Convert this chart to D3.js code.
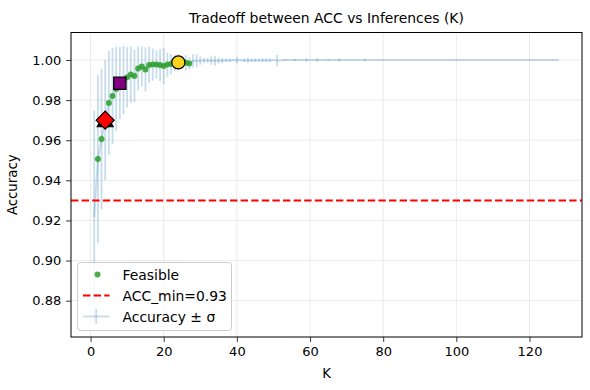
<!DOCTYPE html>
<html>
<head>
<meta charset="utf-8">
<script src="https://cdn.jsdelivr.net/npm/d3@7"></script>
<style>
  body { margin: 0; background: #fff; }
  text { font-family: "DejaVu Sans", sans-serif; }
</style>
</head>
<body>
<div id="canvas"></div>
<script>
// values
const kValues = [1, 2, 3, 4, 5, 6, 7, 8, 9, 10, 11, 12, 13, 14, 15, 16, 17, 18, 19, 20,
  21, 22, 23, 24, 25, 26, 27, 28, 29, 30, 31, 32, 33, 34, 35, 36, 37, 38, 39, 40,
  41, 42, 43, 44, 45, 46, 47, 48, 49, 50, 51, 53, 56, 59, 62, 65, 68, 75, 128];
const accMean = [0.9218, 0.9506, 0.9606, 0.9700, 0.9786, 0.9820, 0.9855, 0.9884, 0.9900, 0.9914,
  0.9927, 0.9920, 0.9958, 0.9968, 0.9953, 0.9975, 0.9977, 0.9977, 0.9975, 0.9970,
  0.9977, 0.9980, 0.9983, 0.9988, 0.9990, 0.9986, 0.9983, 0.9995, 0.9996, 0.9997,
  0.9997, 0.9997, 0.9997, 0.9996, 0.9997, 0.9997, 0.9998, 0.9998, 1.0, 0.9998,
  1.0, 0.9998, 0.9998, 0.9998, 0.9998, 0.9998, 0.9998, 0.9998, 0.9998, 1.0,
  0.9997, 1.0, 1.0, 1.0, 1.0, 1.0, 1.0, 1.0, 1.0];
const accStd = [0.053, 0.042, 0.035, 0.030, 0.026, 0.024, 0.021, 0.018, 0.017, 0.015,
  0.014, 0.013, 0.011, 0.010, 0.011, 0.009, 0.008, 0.007, 0.008, 0.009,
  0.006, 0.005, 0.004, 0.004, 0.003, 0.004, 0.003, 0.0033, 0.0033, 0.0020,
  0.0013, 0.0013, 0.0020, 0.0025, 0.0015, 0.0013, 0.0008, 0.0008, 0, 0.0015,
  0, 0.0008, 0.0012, 0.0008, 0.0008, 0.0008, 0.0010, 0.0010, 0.0008, 0,
  0.0028, 0.0004, 0.0005, 0.0008, 0.0008, 0.0004, 0.0008, 0.0006, 0];
const feasibleK = [2, 3, 4, 5, 6, 7, 8, 9, 10, 11, 12, 13, 14, 15, 16, 17, 18, 19, 20,
  21, 22, 23, 24, 25, 26, 27];
const accMin = 0.93;
const markK = [4, 4, 8, 24];
const markShape = ["triangle", "diamond", "square", "circle"];
const markColor = ["#000000", "#ff0000", "#800080", "#ffd21f"];
const xTicks = [0, 20, 40, 60, 80, 100, 120];
const yTicks = [0.88, 0.90, 0.92, 0.94, 0.96, 0.98, 1.00];
const legendLabels = ["Feasible", "ACC_min=0.93", "Accuracy ± σ"];

const canvas = d3.select("#canvas");

const width = 590;
const height = 390;
const margin = { top: 32.5, left: 71, bottom: 53, right: 8 };
const iwidth = width - margin.left - margin.right;
const iheight = height - margin.top - margin.bottom;
const fs = 13.9;

const svg = canvas.append("svg").attr("width", width).attr("height", height);

const g = svg.append("g").attr("transform", `translate(${margin.left},${margin.top})`);

const x = d3.scaleLinear().domain([-5.35, 134.35]).range([0, iwidth]);
const y = d3.scaleLinear().domain([0.8619, 1.0137]).range([iheight, 0]);

const rows = kValues.map((k, i) => ({ k: k, m: accMean[i], s: accStd[i] }));
const meanOf = (k) => accMean[kValues.indexOf(k)];

// grid
g.append("g").selectAll("line").data(xTicks).join("line")
  .attr("x1", (d) => x(d)).attr("x2", (d) => x(d))
  .attr("y1", 0).attr("y2", iheight)
  .attr("stroke", "#e6e6e6").attr("stroke-width", 0.8);
g.append("g").selectAll("line").data(yTicks).join("line")
  .attr("y1", (d) => y(d)).attr("y2", (d) => y(d))
  .attr("x1", 0).attr("x2", iwidth)
  .attr("stroke", "#e6e6e6").attr("stroke-width", 0.8);

// error bars + mean line
const eb = g.append("g").attr("stroke", "#1f77b4").attr("stroke-opacity", 0.25).attr("stroke-width", 1.8);
eb.append("path")
  .datum(rows)
  .attr("fill", "none")
  .attr("d", d3.line().x((d) => x(d.k)).y((d) => y(d.m)));
eb.selectAll("line").data(rows.filter((d) => d.s > 0)).join("line")
  .attr("x1", (d) => x(d.k)).attr("x2", (d) => x(d.k))
  .attr("y1", (d) => y(d.m - d.s)).attr("y2", (d) => y(d.m + d.s));

// threshold
g.append("line")
  .attr("x1", 0).attr("x2", iwidth)
  .attr("y1", y(accMin)).attr("y2", y(accMin))
  .attr("stroke", "red").attr("stroke-width", 2).attr("stroke-dasharray", "7.4,3.2");

// feasible points
g.append("g").selectAll("circle").data(feasibleK).join("circle")
  .attr("cx", (d) => x(d)).attr("cy", (d) => y(meanOf(d)))
  .attr("r", 3).attr("fill", "#2ca02c").attr("fill-opacity", 0.85);

// highlighted picks
const symbolType = { triangle: d3.symbolTriangle, diamond: d3.symbolSquare, square: d3.symbolSquare, circle: d3.symbolCircle };
const symbolSize = { triangle: 110, diamond: 162, square: 150, circle: 135 };
g.append("g").selectAll("path").data(markK.map((k, i) => ({ k: k, shape: markShape[i], color: markColor[i] }))).join("path")
  .attr("d", (d) => d3.symbol().type(symbolType[d.shape]).size(symbolSize[d.shape])())
  .attr("transform", (d) => `translate(${x(d.k)},${y(meanOf(d.k)) + (d.shape === "triangle" ? 2 : 0)})` + (d.shape === "diamond" ? " rotate(45)" : ""))
  .attr("fill", (d) => d.color)
  .attr("stroke", "#000").attr("stroke-width", 1.2);

// axes
const xAxis = g.append("g").attr("transform", `translate(0,${iheight})`)
  .call(d3.axisBottom(x).tickValues(xTicks).tickSize(4.9).tickPadding(4.9).tickFormat(d3.format("d")));
const yAxis = g.append("g")
  .call(d3.axisLeft(y).tickValues(yTicks).tickSize(4.9).tickPadding(4.9).tickFormat(d3.format(".2f")));
[xAxis, yAxis].forEach((a) => {
  a.select(".domain").remove();
  a.selectAll("text").attr("font-size", 13).attr("fill", "#000").attr("font-family", "DejaVu Sans");
  a.selectAll("line").attr("stroke", "#000").attr("stroke-width", 0.8);
});

g.append("rect").attr("width", iwidth).attr("height", iheight)
  .attr("fill", "none").attr("stroke", "#000").attr("stroke-width", 1);

// labels
svg.append("text").attr("x", margin.left + iwidth / 2).attr("y", 23)
  .attr("text-anchor", "middle").attr("font-size", fs).text("Tradeoff between ACC vs Inferences (K)");
svg.append("text").attr("x", margin.left + iwidth / 2).attr("y", 378)
  .attr("text-anchor", "middle").attr("font-size", 13.3).text("K");
svg.append("text").attr("transform", `translate(17,${margin.top + iheight / 2}) rotate(-90)`)
  .attr("text-anchor", "middle").attr("font-size", 13.3).text("Accuracy");

// legend
const lg = svg.append("g").attr("transform", "translate(77.5,262.5)");
lg.append("rect").attr("width", 154).attr("height", 68).attr("rx", 3)
  .attr("fill", "#fff").attr("fill-opacity", 0.8).attr("stroke", "#cccccc").attr("stroke-width", 1);
const rowY = [12, 33, 54];
lg.append("circle").attr("cx", 20).attr("cy", rowY[0]).attr("r", 3).attr("fill", "#2ca02c").attr("fill-opacity", 0.85);
lg.append("line").attr("x1", 5.5).attr("x2", 32).attr("y1", rowY[1]).attr("y2", rowY[1])
  .attr("stroke", "red").attr("stroke-width", 2).attr("stroke-dasharray", "7.4,3.2");
const eh = lg.append("g").attr("stroke", "#1f77b4").attr("stroke-opacity", 0.25).attr("stroke-width", 1.8);
eh.append("line").attr("x1", 5.5).attr("x2", 32).attr("y1", rowY[2]).attr("y2", rowY[2]);
eh.append("line").attr("x1", 18.75).attr("x2", 18.75).attr("y1", rowY[2] - 7.5).attr("y2", rowY[2] + 7.5);
lg.selectAll("text.lab").data(legendLabels).join("text")
  .attr("class", "lab")
  .attr("x", 45).attr("y", (d, i) => rowY[i]).attr("dy", "0.36em")
  .attr("font-size", fs).text((d) => d);
</script>
</body>
</html>
